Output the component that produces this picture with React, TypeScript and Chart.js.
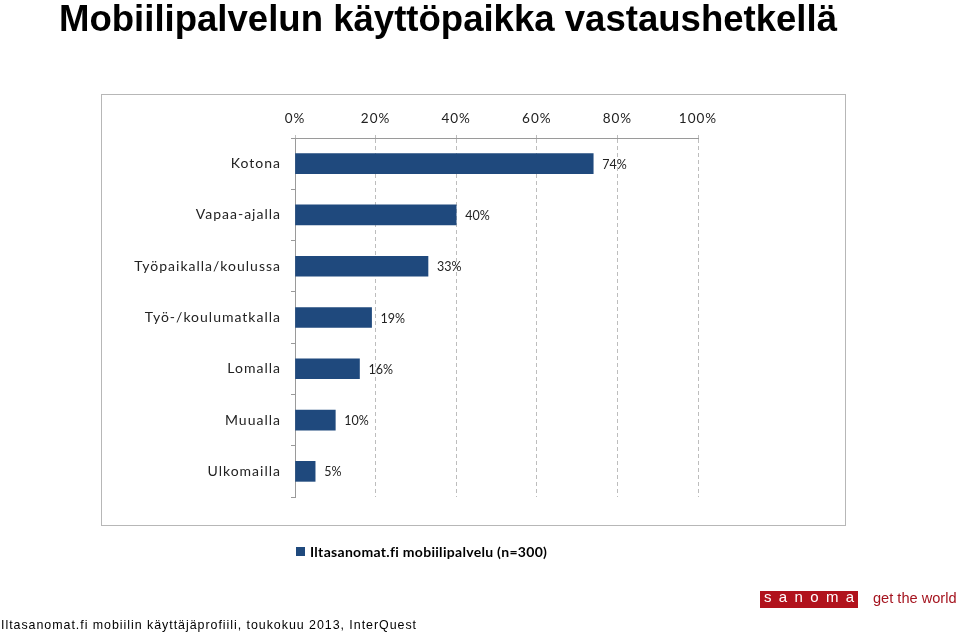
import React, { useEffect, useRef } from "react";
import { Chart, registerables } from "chart.js";

Chart.register(...registerables);

const title = "Mobiilipalvelun käyttöpaikka vastaushetkellä";
const categories = [
  "Kotona",
  "Vapaa-ajalla",
  "Työpaikalla/koulussa",
  "Työ-/koulumatkalla",
  "Lomalla",
  "Muualla",
  "Ulkomailla",
];
const values = [74, 40, 33, 19, 16, 10, 5];
const seriesName = "Iltasanomat.fi mobiilipalvelu (n=300)";
const footer = "Iltasanomat.fi mobiilin käyttäjäprofiili, toukokuu 2013, InterQuest";
const logoText = "s a n o m a";
const slogan = "get the world";

const BAR = "#1f497d";

const decorPlugin = {
  id: "decor",
  beforeDraw(chart: any) {
    const ctx = chart.ctx;
    ctx.save();
    ctx.fillStyle = "#ffffff";
    ctx.fillRect(0, 0, chart.width, chart.height);
    // frame
    ctx.strokeStyle = "#b7b7b7";
    ctx.lineWidth = 1;
    ctx.strokeRect(101.5, 94.5, 744, 431);
    ctx.restore();
    (ctx as any).letterSpacing = "1px";
  },
  beforeDatasetsDraw(chart: any) {
    (chart.ctx as any).letterSpacing = "0px";
  },
  afterDraw(chart: any) {
    const ctx = chart.ctx;
    ctx.save();
    (ctx as any).letterSpacing = "0px";
    // title
    ctx.fillStyle = "#000";
    ctx.font = 'bold 37px "Liberation Sans Narrow", "Liberation Sans", Arial, sans-serif';
    ctx.textBaseline = "alphabetic";
    let w = ctx.measureText(title).width;
    ctx.save();
    ctx.translate(59, 31);
    ctx.scale(778 / w, 1);
    ctx.fillText(title, 0, 0);
    ctx.restore();

    // value labels
    const meta = chart.getDatasetMeta(0);
    ctx.font = '12.5px Lato, "Open Sans", sans-serif';
    ctx.fillStyle = "#222";
    ctx.textBaseline = "middle";
    ctx.textAlign = "left";
    meta.data.forEach((el: any, i: number) => {
      ctx.fillText(values[i] + "%", el.x + 9, el.y + 1);
    });

    // legend
    ctx.fillStyle = BAR;
    ctx.fillRect(296, 547, 9, 9);
    ctx.fillStyle = "#000";
    ctx.font = 'bold 14px Lato, "Open Sans", sans-serif';
    (ctx as any).letterSpacing = "0.3px";
    ctx.fillText(seriesName, 310, 552);
    (ctx as any).letterSpacing = "0px";

    // footer
    ctx.font = '13px "Liberation Sans", Arial, sans-serif';
    (ctx as any).letterSpacing = "1px";
    ctx.textBaseline = "alphabetic";
    w = ctx.measureText(footer).width;
    ctx.save();
    ctx.translate(1, 629);
    ctx.scale(416 / w, 1);
    ctx.fillStyle = "#000";
    ctx.fillText(footer, 0, 0);
    ctx.restore();
    (ctx as any).letterSpacing = "0px";

    // logo
    ctx.fillStyle = "#b1121c";
    ctx.fillRect(760, 591, 98, 17);
    ctx.fillStyle = "#ffffff";
    ctx.font = '15px "Liberation Sans", Arial, sans-serif';
    ctx.textAlign = "left";
    ctx.textBaseline = "middle";
    (ctx as any).letterSpacing = "1.6px";
    const lw = ctx.measureText(logoText).width - 1.6;
    ctx.fillText(logoText, 809 - lw / 2, 598);
    (ctx as any).letterSpacing = "0px";
    ctx.fillStyle = "#a5141f";
    ctx.font = '14.6px "Liberation Sans", Arial, sans-serif';
    ctx.fillText(slogan, 873, 599);
    ctx.restore();
  },
};

export default function App() {
  const ref = useRef<HTMLCanvasElement>(null);
  useEffect(() => {
    if (!ref.current) return;
    const chart = new Chart(ref.current, {
      type: "bar",
      data: {
        labels: categories,
        datasets: [
          {
            label: seriesName,
            data: values,
            backgroundColor: BAR,
            barThickness: 20,
          },
        ],
      },
      options: {
        indexAxis: "y",
        responsive: false,
        animation: false,
        devicePixelRatio: 1,
        layout: { padding: { left: 101, top: 94, right: 262, bottom: 136 } },
        plugins: {
          legend: { display: false },
          tooltip: { enabled: false },
          title: { display: false },
        },
        scales: {
          x: {
            position: "top",
            min: 0,
            max: 100,
            afterFit: (s: any) => {
              s.height = 44;
            },
            ticks: {
              stepSize: 20,
              callback: (v: any) => v + "%",
              color: "#222",
              font: { family: 'Lato, "Open Sans", sans-serif', size: 13.5 },
              padding: 8,
              maxRotation: 0,
            },
            grid: {
              color: "#bdbdbd",
              tickLength: 3,
              lineWidth: 1,
            },
            border: { display: true, color: "#9a9a9a", dash: [4, 3] },
          },
          y: {
            afterFit: (s: any) => {
              s.width = 194;
            },
            ticks: {
              color: "#222",
              font: { family: 'Lato, "Open Sans", sans-serif', size: 14 },
              padding: 10,
            },
            grid: {
              drawOnChartArea: false,
              tickLength: 4,
              color: "#9a9a9a",
            },
            border: { display: true, color: "#9a9a9a" },
          },
        },
      },
      plugins: [decorPlugin],
    });
    return () => chart.destroy();
  }, []);
  return (
    <div style={{ position: "absolute", left: 0, top: 0, width: 960, height: 633 }}>
      <canvas ref={ref} width={960} height={633} style={{ display: "block" }} />
    </div>
  );
}
